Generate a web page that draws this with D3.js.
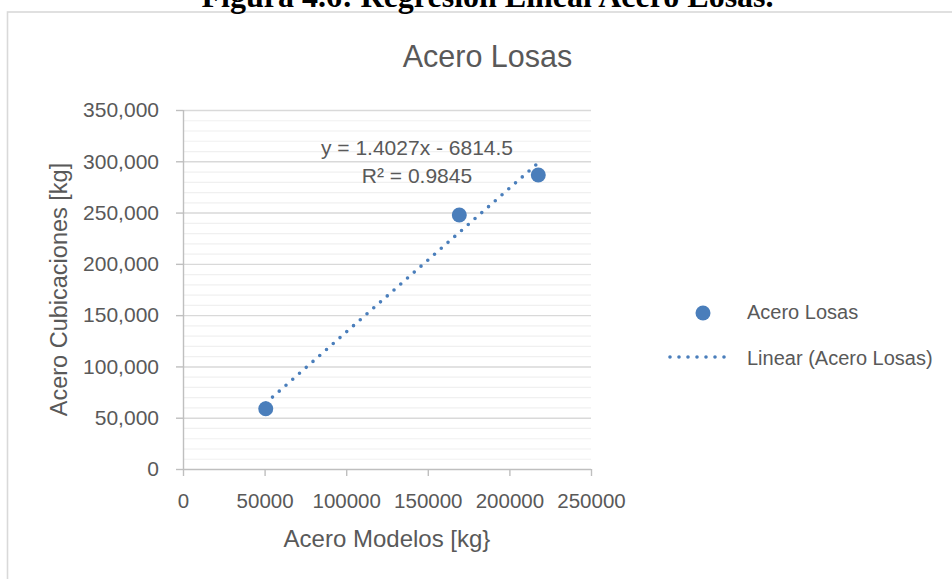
<!DOCTYPE html>
<html>
<head>
<meta charset="utf-8">
<script src="https://cdn.jsdelivr.net/npm/d3@7"></script>
<style>
  html, body { margin: 0; padding: 0; background: #ffffff; overflow: hidden; }
  svg { display: block; }
</style>
</head>
<body>
<svg id="chart" width="952" height="579"></svg>
<script>
// ---- data ----
const seriesName = "Acero Losas";
const trendName = "Linear (Acero Losas)";
const acerosModelos = [50700, 169300, 217700];      // x values [kg]
const acerosCubicaciones = [58800, 247600, 286600]; // y values [kg]
const trendSlope = 1.4027;
const trendIntercept = -6814.5;
const equationLines = ["y = 1.4027x - 6814.5", "R\u00B2 = 0.9845"];
const xTickValues = [0, 50000, 100000, 150000, 200000, 250000];
const yTickValues = [0, 50000, 100000, 150000, 200000, 250000, 300000, 350000];
const yMinorStep = 10000;
const captionText = "Figura 4.6: Regresi\u00F3n Lineal Acero Losas.";
const chartTitle = "Acero Losas";
const xAxisTitle = "Acero Modelos [kg}";
const yAxisTitle = "Acero Cubicaciones [kg]";

// ---- styles ----
const FONT = "'Liberation Sans', Arial, sans-serif";
const TEXT = "#595959";
const BLUE = "#4A7EBB";

const svg = d3.select("#chart");
svg.append("rect").attr("width", 952).attr("height", 579).attr("fill", "#ffffff");

// chart area border
svg.append("rect")
  .attr("x", 7.5).attr("y", 12)
  .attr("width", 1000).attr("height", 620)
  .attr("fill", "#ffffff")
  .attr("stroke", "#d9d9d9").attr("stroke-width", 1.6);

// document caption (cut off at the top, as in the reference)
svg.append("text")
  .attr("x", 487.5).attr("y", 7)
  .attr("text-anchor", "middle")
  .style("font-family", "'Liberation Serif', 'Times New Roman', serif")
  .style("font-weight", "bold").style("font-size", "32px")
  .attr("fill", "#000000")
  .text(captionText);

// chart title
svg.append("text")
  .attr("x", 487.5).attr("y", 67)
  .attr("text-anchor", "middle")
  .style("font-family", FONT).style("font-size", "30.5px")
  .attr("fill", TEXT)
  .text(chartTitle);

const plot = { left: 183, right: 591, top: 110, bottom: 469 };
const x = d3.scaleLinear().domain([xTickValues[0], xTickValues[xTickValues.length - 1]]).range([plot.left, plot.right]);
const y = d3.scaleLinear().domain([yTickValues[0], yTickValues[yTickValues.length - 1]]).range([plot.bottom, plot.top]);

// minor gridlines
const minorVals = d3.range(yTickValues[0], yTickValues[yTickValues.length - 1] + 1, yMinorStep)
  .filter(v => !yTickValues.includes(v));
svg.append("g")
  .selectAll("line").data(minorVals).join("line")
  .attr("x1", plot.left).attr("x2", plot.right)
  .attr("y1", d => y(d) + 0.5).attr("y2", d => y(d) + 0.5)
  .attr("stroke", "#f0f0f0").attr("stroke-width", 1.2);

// major gridlines
const gridG = svg.append("g")
  .attr("transform", `translate(${plot.left},0)`)
  .call(d3.axisRight(y).tickValues(yTickValues.filter(v => v > 0)).tickSize(plot.right - plot.left).tickFormat(""));
gridG.select(".domain").remove();
gridG.selectAll("line").attr("stroke", "#d9d9d9").attr("stroke-width", 1.4);

// y axis
const yAxisG = svg.append("g")
  .attr("transform", `translate(${plot.left},0)`)
  .call(d3.axisLeft(y).tickValues(yTickValues).tickSize(7).tickPadding(17).tickFormat(d3.format(",")));
yAxisG.select(".domain").attr("stroke", "#bfbfbf").attr("stroke-width", 1.4)
  .attr("d", `M0.5,${plot.top}V${plot.bottom}`);
yAxisG.selectAll(".tick line").attr("stroke", "#bfbfbf").attr("stroke-width", 1.4);
yAxisG.selectAll(".tick text").attr("fill", TEXT)
  .style("font-family", FONT).style("font-size", "21px");

// x axis
const xAxisG = svg.append("g")
  .attr("transform", `translate(0,${plot.bottom})`)
  .call(d3.axisBottom(x).tickValues(xTickValues).tickSize(7).tickPadding(17).tickFormat(d3.format("d")));
xAxisG.select(".domain").attr("stroke", "#bfbfbf").attr("stroke-width", 1.4)
  .attr("d", `M${plot.left},0.5H${plot.right}`);
xAxisG.selectAll(".tick line").attr("stroke", "#bfbfbf").attr("stroke-width", 1.4);
xAxisG.selectAll(".tick text").attr("fill", TEXT)
  .style("font-family", FONT).style("font-size", "20.5px");

// axis titles
svg.append("text")
  .attr("x", (plot.left + plot.right) / 2).attr("y", 546.5)
  .attr("text-anchor", "middle")
  .style("font-family", FONT).style("font-size", "24px")
  .attr("fill", TEXT).text(xAxisTitle);
svg.append("text")
  .attr("transform", `translate(67,${(plot.top + plot.bottom) / 2}) rotate(-90)`)
  .attr("text-anchor", "middle")
  .style("font-family", FONT).style("font-size", "23.5px")
  .attr("fill", TEXT).text(yAxisTitle);

// trendline
const xMin = d3.min(acerosModelos), xMax = d3.max(acerosModelos);
const trendPts = [xMin, xMax].map(v => [x(v), y(trendSlope * v + trendIntercept)]);
svg.append("path")
  .attr("d", d3.line()(trendPts))
  .attr("fill", "none").attr("stroke", BLUE)
  .attr("stroke-width", 3.6).attr("stroke-linecap", "round")
  .attr("stroke-dasharray", "0 9");

// data points
const pts = acerosModelos.map((v, i) => ({ x: v, y: acerosCubicaciones[i] }));
svg.append("g").selectAll("circle").data(pts).join("circle")
  .attr("cx", d => x(d.x)).attr("cy", d => y(d.y)).attr("r", 7.5)
  .attr("fill", BLUE);

// equation label
svg.append("g").selectAll("text").data(equationLines).join("text")
  .attr("x", 417).attr("y", (d, i) => 155 + i * 28)
  .attr("text-anchor", "middle")
  .style("font-family", FONT).style("font-size", "21px")
  .attr("fill", TEXT).text(d => d);

// legend
const legend = svg.append("g");
legend.append("circle").attr("cx", 703).attr("cy", 313).attr("r", 7.5).attr("fill", BLUE);
legend.append("text").attr("x", 747).attr("y", 319)
  .style("font-family", FONT).style("font-size", "20px")
  .attr("fill", TEXT).text(seriesName);
legend.append("path").attr("d", d3.line()([[670, 357], [733, 357]]))
  .attr("stroke", BLUE).attr("stroke-width", 3.6).attr("stroke-linecap", "round")
  .attr("stroke-dasharray", "0 9").attr("fill", "none");
legend.append("text").attr("x", 747).attr("y", 365)
  .style("font-family", FONT).style("font-size", "20px")
  .attr("fill", TEXT).text(trendName);
</script>
</body>
</html>
